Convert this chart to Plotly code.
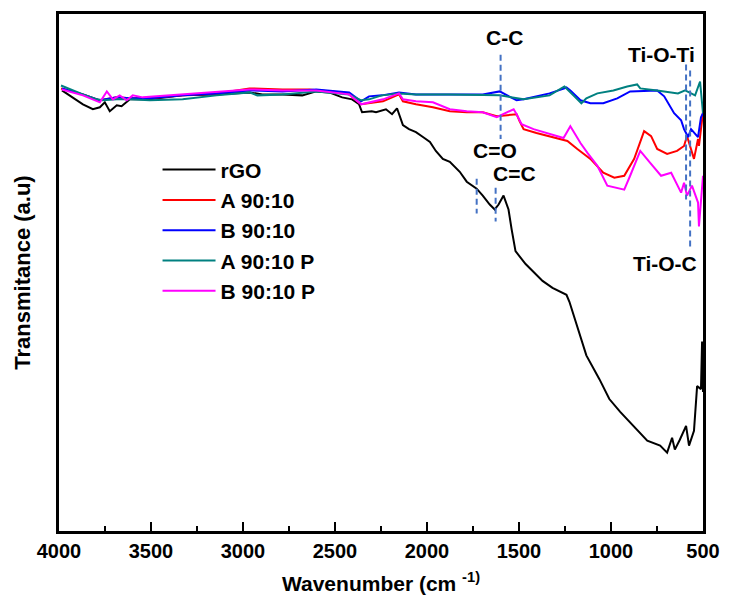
import plotly.graph_objects as go

# FTIR spectra: wavenumber (cm^-1) and transmittance (arbitrary units)
rgo_wn = [3984, 3870, 3816, 3778, 3751, 3724, 3686, 3660, 3615, 3507, 3328, 3144, 2965, 2895,
          2786, 2678, 2602, 2532, 2461, 2407, 2369, 2353, 2300, 2277, 2223, 2190, 2163, 2131,
          2098, 2060, 2022, 1984, 1952, 1914, 1876, 1822, 1784, 1730, 1697, 1659, 1632, 1611,
          1584, 1557, 1540, 1529, 1519, 1464, 1372, 1318, 1242, 1226, 1188, 1134, 1063, 1009,
          950, 879, 803, 733, 695, 668, 653, 626, 592, 576, 549, 532, 511, 505, 500]
rgo_t = [88.8, 86.0, 85.0, 85.4, 86.4, 84.6, 85.8, 85.6, 87.0, 87.0, 87.8, 88.0, 88.4, 88.0,
         88.0, 87.8, 88.6, 88.4, 87.4, 87.0, 86.0, 84.4, 84.6, 84.4, 85.0, 84.0, 85.2, 81.8,
         81.0, 80.4, 79.4, 78.4, 76.6, 75.0, 74.4, 72.4, 70.4, 69.0, 67.6, 65.8, 64.8, 65.8,
         67.6, 64.8, 60.8, 58.0, 56.4, 53.8, 50.4, 49.0, 47.6, 46.2, 41.6, 35.4, 30.6, 26.6,
         24.0, 21.2, 18.2, 17.2, 15.8, 18.8, 16.4, 18.4, 21.2, 17.2, 20.2, 29.2, 28.6, 38.2, 28.0]

a_wn = [3989, 3870, 3778, 3686, 3615, 3507, 3328, 3144, 2965, 2786, 2640, 2461, 2423, 2358,
        2239, 2152, 2131, 2060, 1968, 1876, 1784, 1697, 1621, 1513, 1497, 1475, 1405, 1296,
        1237, 1183, 1112, 1042, 982, 928, 874, 820, 782, 749, 695, 641, 603, 587, 565, 549,
        527, 522, 500]
a_t = [89.2, 88.0, 86.8, 87.4, 87.2, 87.2, 87.8, 88.2, 89.2, 89.0, 89.0, 88.4, 88.0, 86.0,
       86.6, 88.0, 86.6, 86.0, 85.4, 84.6, 84.4, 84.4, 83.6, 84.0, 82.6, 81.0, 80.2, 79.2,
       78.6, 77.0, 75.0, 72.2, 71.2, 71.6, 75.0, 80.6, 79.6, 77.0, 76.0, 76.6, 77.6, 79.6,
       77.0, 75.0, 79.0, 77.6, 84.4]

b_wn = [3984, 3870, 3778, 3686, 3615, 3507, 3328, 3144, 2965, 2786, 2602, 2423, 2358, 2315,
        2245, 2152, 2060, 1968, 1882, 1697, 1605, 1594, 1551, 1513, 1475, 1405, 1334, 1253,
        1242, 1221, 1166, 1112, 1042, 966, 896, 749, 711, 657, 619, 603, 581, 565, 527, 511, 500]
b_t = [89.2, 88.0, 86.8, 87.4, 87.2, 87.2, 87.8, 88.2, 88.8, 88.6, 89.0, 88.4, 86.6, 87.6,
       87.8, 88.4, 88.0, 88.0, 88.0, 88.0, 88.6, 88.4, 87.6, 86.8, 87.0, 87.6, 88.2, 89.2,
       89.4, 88.8, 86.8, 86.2, 86.2, 87.2, 88.6, 88.8, 87.6, 84.2, 82.8, 81.0, 79.4, 81.0,
       79.4, 83.4, 84.2]

ap_wn = [3989, 3940, 3870, 3794, 3762, 3686, 3615, 3507, 3328, 3144, 2965, 2922, 2786, 2602,
         2548, 2423, 2358, 2315, 2245, 2152, 2060, 1882, 1605, 1475, 1334, 1253, 1199, 1161,
         1134, 1074, 987, 912, 858, 841, 749, 636, 597, 543, 516, 505, 500]
ap_t = [89.8, 89.0, 88.0, 87.0, 86.8, 87.0, 87.0, 86.8, 87.0, 87.8, 88.4, 87.8, 88.0, 88.6,
        88.4, 88.0, 86.8, 87.0, 87.8, 88.2, 88.0, 88.0, 87.8, 87.0, 87.8, 89.6, 87.6, 86.2,
        87.2, 88.2, 88.8, 89.6, 90.0, 89.2, 88.8, 88.2, 88.8, 87.8, 90.6, 86.8, 84.2]

bp_wn = [3984, 3870, 3778, 3740, 3707, 3670, 3632, 3599, 3545, 3328, 3144, 2965, 2786, 2602,
         2423, 2358, 2239, 2152, 2131, 2060, 1968, 1876, 1784, 1697, 1621, 1529, 1513, 1486,
         1421, 1329, 1258, 1221, 1166, 1128, 1074, 1020, 966, 928, 896, 841, 787, 728, 673,
         619, 603, 587, 560, 527, 522, 500]
bp_t = [89.0, 87.8, 86.4, 88.6, 87.0, 87.8, 86.8, 87.8, 87.4, 88.0, 88.4, 89.0, 88.8, 88.8,
        88.0, 86.0, 87.0, 88.2, 87.0, 86.6, 86.4, 85.0, 84.6, 84.4, 83.4, 85.0, 84.0, 82.0,
        81.0, 80.0, 79.2, 81.6, 78.2, 76.2, 73.6, 69.6, 69.2, 68.8, 71.6, 76.6, 74.2, 71.6,
        72.2, 68.2, 70.2, 67.6, 69.6, 66.2, 61.4, 71.6]

series_names = ["rGO", "A 90:10", "B 90:10", "A 90:10 P", "B 90:10 P"]
series_colors = ["#000000", "#FF0000", "#0000FF", "#008080", "#FF00FF"]
series_x = [rgo_wn, a_wn, b_wn, ap_wn, bp_wn]
series_y = [rgo_t, a_t, b_t, ap_t, bp_t]

# Band assignments: label text, label position, marker line position and extent
band_labels = ["C-C", "Ti-O-Ti", "C=O", "C=C", "Ti-O-C"]
band_label_x = [1580, 728, 1632, 1524, 706]
band_label_y = [99.4, 96.0, 76.6, 72.0, 54.0]
band_line_x = [1600, 592, 1730, 1627, 570]
band_line_y0 = [96.0, 94.0, 71.0, 69.2, 92.8]
band_line_y1 = [79.0, 66.8, 64.0, 62.4, 56.8]

FONT = "Liberation Sans, Arial, sans-serif"

fig = go.Figure()
for name, color, xs, ys in zip(series_names, series_colors, series_x, series_y):
    fig.add_trace(go.Scatter(x=xs, y=ys, mode="lines", name=name,
                             line=dict(color=color, width=2)))

for xl, y0, y1 in zip(band_line_x, band_line_y0, band_line_y1):
    fig.add_shape(type="line", xref="x", yref="y", x0=xl, x1=xl, y0=y0, y1=y1,
                  line=dict(color="#4472C4", width=2, dash="6px,4px"))

for txt, xa, ya in zip(band_labels, band_label_x, band_label_y):
    fig.add_annotation(x=xa, y=ya, xref="x", yref="y", text=f"<b>{txt}</b>",
                       showarrow=False, font=dict(family=FONT, size=21, color="#000000"))

fig.update_layout(
    width=731, height=603,
    margin=dict(l=59, r=26, t=11, b=71),
    paper_bgcolor="#FFFFFF", plot_bgcolor="#FFFFFF",
    font=dict(family=FONT, color="#000000"),
    showlegend=True,
    legend=dict(x=0.153, y=0.738, xanchor="left", yanchor="top",
                bgcolor="rgba(0,0,0,0)", itemwidth=53,
                font=dict(family=FONT, size=21, color="#000000", weight="bold")),
    xaxis=dict(range=[4000, 500], tickmode="linear", tick0=500, dtick=500,
               ticks="inside", ticklen=9, tickwidth=2, tickcolor="#000000",
               minor=dict(ticks="inside", dtick=250, ticklen=5, tickwidth=2, tickcolor="#000000"),
               showline=True, linewidth=2.5, linecolor="#000000", mirror=True,
               showgrid=False, zeroline=False,
               tickfont=dict(family=FONT, size=20, weight="bold"),
               title=dict(text="<b>Wavenumber (cm <sup>-1)</sup></b>",
                          font=dict(family=FONT, size=21), standoff=16)),
    yaxis=dict(range=[0, 104.2], showticklabels=False, ticks="",
               showline=True, linewidth=2.5, linecolor="#000000", mirror=True,
               showgrid=False, zeroline=False,
               title=dict(text="<b>Transmitance (a.u)</b>",
                          font=dict(family=FONT, size=22), standoff=20)),
)

fig.write_html("out.html")
